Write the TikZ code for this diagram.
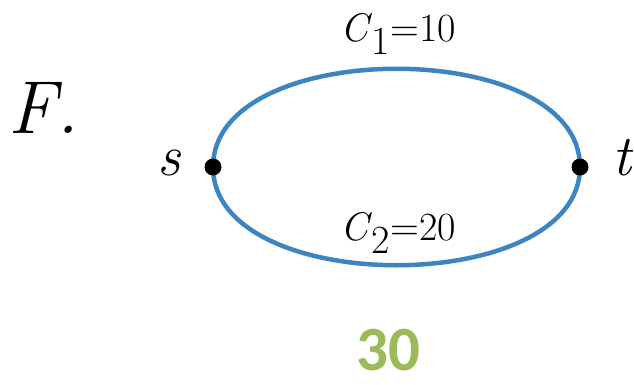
\documentclass[tikz,border=0pt]{standalone}
\usepackage{fontspec}
\newfontfamily\numfont{Carlito}
\definecolor{edgeblue}{RGB}{62,132,192}
\definecolor{olive}{RGB}{155,187,89}
\newcommand{\capto}[2]{\textit{C}\kern-1pt\raisebox{-13pt}{#1}\kern1pt=#2}
\tikzset{
  edge/.style={draw=edgeblue,line width=4.5pt},
  dot/.style={circle,fill=black,inner sep=0pt,minimum size=17pt},
  caplabel/.style={font=\fontsize{40}{46}\selectfont,anchor=base,inner sep=0pt},
  vlabel/.style={font=\fontsize{58}{64}\selectfont\itshape,anchor=base,inner sep=0pt}
}
\begin{document}
\begin{tikzpicture}[x=1pt,y=-1pt]
\useasboundingbox (0,0) rectangle (634,385);
\coordinate (s) at (213,167);
\coordinate (t) at (580,167);
\draw[edge] (s) .. controls +(0,-131) and +(0,-131) .. (t);
\draw[edge] (s) .. controls +(0,131) and +(0,131) .. (t);
\node[dot] (sdot) at (s) {};
\node[dot] (tdot) at (t) {};
\node[vlabel] (slabel) at (169,175) {s};
\node[vlabel] (tlabel) at (622,175) {t};
\node[caplabel] (c1) at (398,42) {\capto{1}{10}};
\node[caplabel] (c2) at (398,240) {\capto{2}{20}};
\node[font=\fontsize{75}{80}\selectfont\itshape,anchor=base west,inner sep=0pt] (fname) at (8,133) {F.};
\node[font=\fontsize{63}{70}\selectfont\numfont\bfseries,text=olive,anchor=base,inner sep=0pt] (total) at (388,370) {30};
\end{tikzpicture}
\end{document}
